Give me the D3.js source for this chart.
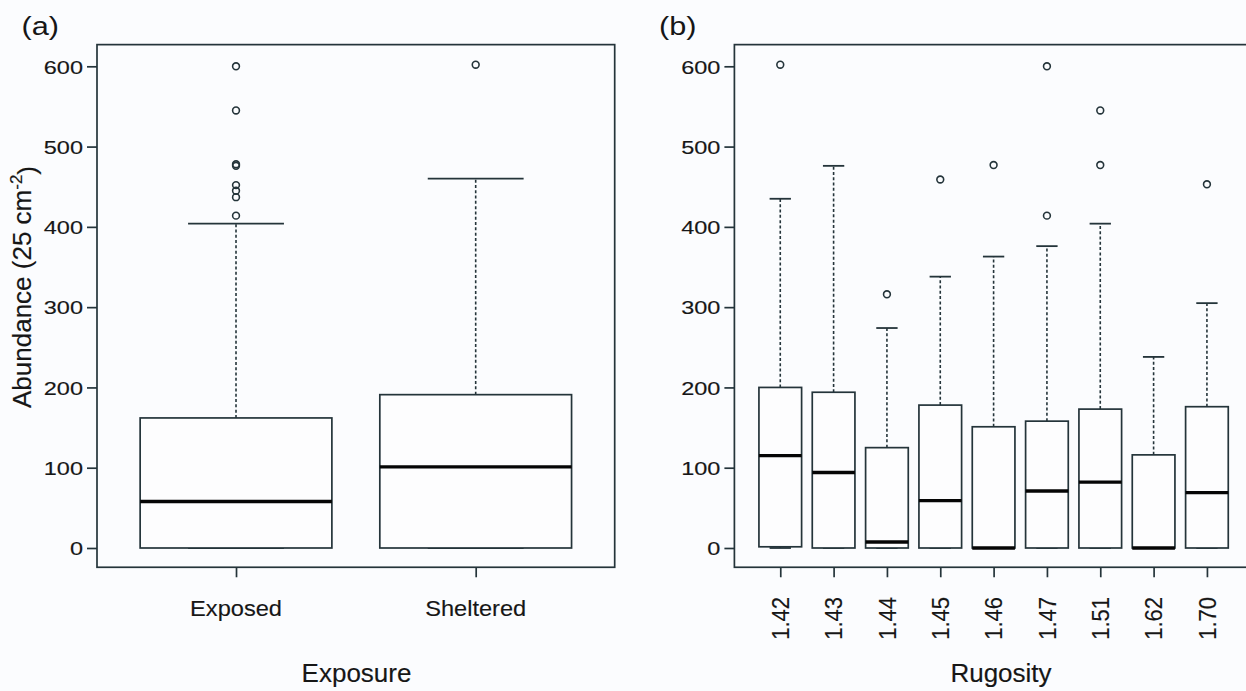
<!DOCTYPE html>
<html>
<head>
<meta charset="utf-8">
<script src="https://cdn.jsdelivr.net/npm/d3@7"></script>
<style>
  html, body { margin: 0; padding: 0; background: #fbfcfe; }
  svg { display: block; }
  text { font-family: "Liberation Sans", Arial, sans-serif; fill: #161616; stroke: #161616; stroke-width: 0.15px; }
</style>
</head>
<body>
<svg id="chart" width="1246" height="691"></svg>
<script>
// ---------- Data ----------
const yTicks = [0, 100, 200, 300, 400, 500, 600];

const exposureCats = ["Exposed", "Sheltered"];
const exposureLow = [0, 0];
const exposureQ1 = [0, 0];
const exposureMedian = [58, 101];
const exposureQ3 = [162, 191];
const exposureHigh = [404, 460];
const exposureOutliers = [[600, 545, 478, 476, 452, 445, 437, 414], [602]];

const rugosityCats = ["1.42", "1.43", "1.44", "1.45", "1.46", "1.47", "1.51", "1.62", "1.70"];
const rugosityLow = [0, 0, 0, 0, 0, 0, 0, 0, 0];
const rugosityQ1 = [1.5, 0, 0, 0, 0, 0, 0, 0, 0];
const rugosityMedian = [115, 94, 7.5, 59, 0, 71, 82, 0, 69];
const rugosityQ3 = [200, 194, 125, 178, 151, 158, 173, 116, 176];
const rugosityHigh = [435, 476, 274, 338, 363, 376, 404, 238, 305];
const rugosityOutliers = [[602], [], [316], [459], [477], [600, 414], [545, 477], [], [453]];

// ---------- Drawing ----------
const svg = d3.select("#chart");
const LINE = "#24343a";

const y = d3.scaleLinear().domain([0, 600]).range([548, 66.3]);
const yFrame = [-24, 627];

function buildRows(cats, low, q1, med, q3, high, outs) {
  return cats.map((c, i) => ({
    cat: c, idx: i + 1, low: low[i], q1: q1[i], med: med[i], q3: q3[i], high: high[i], outs: outs[i]
  }));
}

function drawPanel(opts) {
  const { rows, x, label, labelX, xTitle, xTitleX, rotateLabels } = opts;
  const g = svg.append("g");
  const step = x(2) - x(1);
  const boxW = step * 0.8;
  const capW = boxW * 0.5;
  const [fx0, fx1] = x.range();

  // frame
  g.append("rect")
    .attr("x", fx0).attr("y", y(yFrame[1]))
    .attr("width", fx1 - fx0).attr("height", y(yFrame[0]) - y(yFrame[1]))
    .attr("fill", "none").attr("stroke", LINE).attr("stroke-width", 1.7);

  // y axis
  const ya = g.append("g").attr("transform", `translate(${fx0},0)`)
    .call(d3.axisLeft(y).tickValues(yTicks).tickSize(10).tickPadding(0).tickFormat(d3.format("d")));
  ya.select(".domain").remove();
  ya.selectAll(".tick line").attr("stroke", LINE).attr("stroke-width", 1.7);
  ya.selectAll(".tick text")
    .attr("x", 0).attr("dy", "0.36em")
    .attr("transform", "translate(-14,0) scale(1.25,1)")
    .style("font-size", "18.8px").style("font-family", "'Liberation Sans', Arial, sans-serif")
    .attr("fill", "#161616");

  // x axis ticks
  const xa = g.append("g").attr("transform", `translate(0,${y(yFrame[0])})`)
    .call(d3.axisBottom(x).tickValues(rows.map(r => r.idx)).tickSize(10).tickFormat(""));
  xa.select(".domain").remove();
  xa.selectAll(".tick line").attr("stroke", LINE).attr("stroke-width", 1.7);

  // x labels
  if (rotateLabels) {
    g.selectAll(".xlab").data(rows).enter().append("text")
      .attr("transform", d => `translate(${x(d.idx)},597) scale(1.1,1) rotate(-90)`)
      .attr("text-anchor", "end").attr("dy", "0.36em")
      .style("font-size", "22px")
      .text(d => d.cat);
  } else {
    g.selectAll(".xlab").data(rows).enter().append("text")
      .attr("transform", d => `translate(${x(d.idx)},616) scale(1.05,1)`)
      .attr("text-anchor", "middle")
      .style("font-size", "22.5px")
      .text(d => d.cat);
  }

  // x title
  g.append("text").attr("x", xTitleX).attr("y", 682).attr("text-anchor", "middle")
    .style("font-size", "26px").text(xTitle);

  // panel label
  g.append("text").attr("transform", `translate(${labelX},34.5) scale(1.18,1)`)
    .style("font-size", "26px").style("stroke-width", "0").text(label);

  // boxes
  const b = g.selectAll(".box").data(rows).enter().append("g");
  // whiskers (dashed)
  b.append("line")
    .attr("x1", d => x(d.idx)).attr("x2", d => x(d.idx))
    .attr("y1", d => y(d.q3)).attr("y2", d => y(d.high))
    .attr("stroke", LINE).attr("stroke-width", 1.6).attr("stroke-dasharray", "3,2.3");
  b.append("line")
    .attr("x1", d => x(d.idx)).attr("x2", d => x(d.idx))
    .attr("y1", d => y(d.q1)).attr("y2", d => y(d.low))
    .attr("stroke", LINE).attr("stroke-width", 1.6).attr("stroke-dasharray", "3,2.3");
  // caps
  b.append("line")
    .attr("x1", d => x(d.idx) - capW / 2).attr("x2", d => x(d.idx) + capW / 2)
    .attr("y1", d => y(d.high)).attr("y2", d => y(d.high))
    .attr("stroke", LINE).attr("stroke-width", 1.8);
  b.append("line")
    .attr("x1", d => x(d.idx) - capW / 2).attr("x2", d => x(d.idx) + capW / 2)
    .attr("y1", d => y(d.low)).attr("y2", d => y(d.low))
    .attr("stroke", LINE).attr("stroke-width", 1.8);
  // box
  b.append("rect")
    .attr("x", d => x(d.idx) - boxW / 2).attr("width", boxW)
    .attr("y", d => y(d.q3)).attr("height", d => y(d.q1) - y(d.q3))
    .attr("fill", "#fdfdfe").attr("stroke", LINE).attr("stroke-width", 1.7);
  // median
  b.append("line")
    .attr("x1", d => x(d.idx) - boxW / 2).attr("x2", d => x(d.idx) + boxW / 2)
    .attr("y1", d => y(d.med)).attr("y2", d => y(d.med))
    .attr("stroke", "#050505").attr("stroke-width", 3.4);
  // outliers
  b.selectAll(".out").data(d => d.outs.map(v => ({ idx: d.idx, v }))).enter().append("circle")
    .attr("cx", d => x(d.idx)).attr("cy", d => y(d.v)).attr("r", 3.4)
    .attr("fill", "none").attr("stroke", LINE).attr("stroke-width", 1.6);
}

// Panel (a)
const xa = d3.scaleLinear().domain([0.42, 2.58]).range([97, 614.7]);
drawPanel({
  rows: buildRows(exposureCats, exposureLow, exposureQ1, exposureMedian, exposureQ3, exposureHigh, exposureOutliers),
  x: xa, label: "(a)", labelX: 21.5, xTitle: "Exposure", xTitleX: 356.5, rotateLabels: false
});

// Panel (b)
const xb = d3.scaleLinear().domain([0.14, 9.86]).range([734.4, 1252.8]);
drawPanel({
  rows: buildRows(rugosityCats, rugosityLow, rugosityQ1, rugosityMedian, rugosityQ3, rugosityHigh, rugosityOutliers),
  x: xb, label: "(b)", labelX: 659, xTitle: "Rugosity", xTitleX: 1001, rotateLabels: true
});

// y-axis title for panel (a)
const yt = svg.append("text")
  .attr("transform", "translate(31,287) rotate(-90)")
  .attr("text-anchor", "middle")
  .style("font-size", "26px");
yt.append("tspan").text("Abundance (25 cm");
yt.append("tspan").attr("dy", "-0.55em").style("font-size", "17px").text("-2");
yt.append("tspan").attr("dy", "0.55em").text(")");
</script>
</body>
</html>
